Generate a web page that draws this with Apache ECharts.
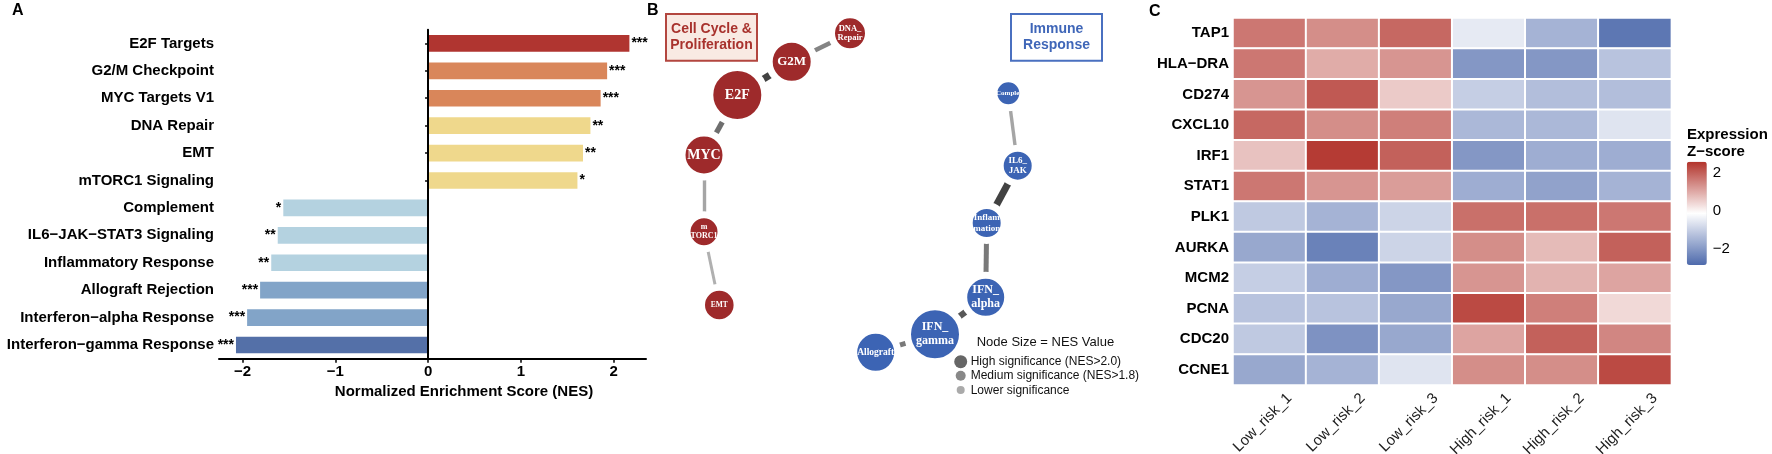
<!DOCTYPE html>
<html><head><meta charset="utf-8">
<script src="https://cdn.jsdelivr.net/npm/echarts/dist/echarts.min.js"></script>
<style>html,body{margin:0;padding:0;background:#fff}#c{width:1772px;height:454px}</style>
</head><body><div id="c"></div>
<script>
// ---------- Panel A data ----------
const pathways = ['E2F Targets','G2/M Checkpoint','MYC Targets V1','DNA Repair','EMT','mTORC1 Signaling','Complement','IL6\u2212JAK\u2212STAT3 Signaling','Inflammatory Response','Allograft Rejection','Interferon\u2212alpha Response','Interferon\u2212gamma Response'];
const nes = [2.17, 1.93, 1.86, 1.75, 1.67, 1.61, -1.56, -1.62, -1.69, -1.81, -1.95, -2.07];
const stars = ['***','***','***','**','**','*','*','**','**','***','***','***'];
const nesTicks = [-2, -1, 0, 1, 2];

// ---------- Panel B data ----------
const nodeIds = ['E2F','G2M','DNA_Repair','MYC','mTORC1','EMT','Complement','IL6_JAK','Inflammation','IFN_alpha','IFN_gamma','Allograft'];
const nodeLabels = ['E2F','G2M','DNA_\nRepair','MYC','m\nTORC1','EMT','Complement','IL6_\nJAK','Inflam\nmation','IFN_\nalpha','IFN_\ngamma','Allograft'];
const nodeGroup = ['cell','cell','cell','cell','cell','cell','immune','immune','immune','immune','immune','immune'];
const nodeX = [97.3, 151.7, 210, 64, 64, 79.3, 368.3, 377.7, 346.7, 345.7, 295, 235.7];
const nodeY = [95, 61.7, 33.3, 155, 231.7, 305, 93.3, 165.7, 223, 297.3, 334.3, 352.3];
const nodeSize = [48, 38, 30, 37, 27, 28.6, 22, 28, 28, 37, 48, 37];
const linkSource = ['G2M','E2F','E2F','MYC','mTORC1','Complement','IL6_JAK','Inflammation','IFN_alpha','IFN_gamma'];
const linkTarget = ['DNA_Repair','G2M','MYC','mTORC1','EMT','IL6_JAK','Inflammation','IFN_alpha','IFN_gamma','Allograft'];
const linkWeight = [0.6, 0.9, 0.7, 0.45, 0.4, 0.45, 0.9, 0.65, 0.8, 0.65];

// ---------- Panel C data ----------
const samples = ['Low_risk_1','Low_risk_2','Low_risk_3','High_risk_1','High_risk_2','High_risk_3'];
const genes = ['TAP1','HLA\u2212DRA','CD274','CXCL10','IRF1','STAT1','PLK1','AURKA','MCM2','PCNA','CDC20','CCNE1'];
const zScores = [
  [1.7, 1.4, 1.9, -0.5, -1.5, -2.6],
  [1.7, 1.0, 1.3, -2.0, -2.0, -1.2],
  [1.3, 2.1, 0.6, -1.0, -1.3, -1.3],
  [1.9, 1.4, 1.6, -1.4, -1.4, -0.6],
  [0.7, 2.5, 2.0, -2.0, -1.6, -1.6],
  [1.7, 1.3, 1.2, -1.6, -1.8, -1.5],
  [-1.1, -1.5, -0.9, 1.8, 1.8, 1.7],
  [-1.7, -2.4, -0.9, 1.4, 0.8, 2.0],
  [-1.0, -1.6, -2.0, 1.3, 0.9, 1.1],
  [-1.2, -1.2, -1.7, 2.3, 1.6, 0.4],
  [-1.1, -2.1, -1.7, 1.1, 2.0, 1.5],
  [-1.7, -1.5, -0.6, 1.4, 1.4, 2.3]
];
const zMin = -2.83, zMax = 2.61;
const colorbarTicks = [-2, 0, 2];

// ---------- styling helpers ----------
const SANS = 'Liberation Sans, Arial, sans-serif';
const SERIF = 'Liberation Serif, Times New Roman, serif';
const minus = v => (v < 0 ? '\u2212' + Math.abs(v) : String(v));
function barColor(v) {
  if (v > 2) return '#B03530';
  if (v > 1.8) return '#D9865A';
  if (v > 0) return '#EFD88C';
  if (v > -1.8) return '#B4D2E0';
  if (v > -2) return '#82A4C8';
  return '#5470A8';
}
const labelFont = {E2F:14, G2M:13, DNA_Repair:8.5, MYC:14, mTORC1:8, EMT:7.5, Complement:7, IL6_JAK:9, Inflammation:9, IFN_alpha:12, IFN_gamma:12, Allograft:9.5};
const labelShift = {Complement: [7, 0]};
const GAP = 7;

const barData = nes.map((v, i) => ({
  value: v,
  itemStyle: {color: barColor(v)},
  label: {show: true, position: v >= 0 ? 'right' : 'left', distance: 2, formatter: stars[i],
          fontSize: 14, fontWeight: 'bold', color: '#000', fontFamily: SANS}
}));

const graphNodes = nodeIds.map((id, i) => ({
  name: id,
  value: [nodeX[i], nodeY[i]],
  symbolSize: nodeSize[i] + GAP,
  itemStyle: {color: nodeGroup[i] === 'cell' ? '#9E2A2B' : '#3C64B4', borderColor: '#fff', borderWidth: GAP},
  label: {show: true, position: 'inside', formatter: nodeLabels[i], color: '#fff', offset: labelShift[id] || [0, 0],
          fontFamily: SERIF, fontWeight: 'bold', fontSize: labelFont[id], lineHeight: labelFont[id] * 1.15}
}));
const graphLinks = linkSource.map((s, i) => {
  const w = linkWeight[i];
  const g = Math.round(176 - (w - 0.4) / 0.5 * 110);
  return {source: s, target: linkTarget[i],
          lineStyle: {color: `rgb(${g},${g},${g})`, width: 3 + (w - 0.4) * 8, opacity: 1, curveness: 0}};
});

const heatData = [];
zScores.forEach((row, r) => row.forEach((v, c) => heatData.push([c, r, v])));

const G = {containLabel: false, outerBoundsMode: 'none'};
const chart = echarts.init(document.getElementById('c'), null, {renderer: 'canvas'});
chart.setOption({
  animation: false,
  backgroundColor: '#fff',
  textStyle: {fontFamily: SANS},
  grid: [
    Object.assign({left: 219, top: 29.7, width: 427, height: 329}, G),
    Object.assign({left: 640, top: 0, width: 500, height: 454}, G),
    Object.assign({left: 1233, top: 18, width: 438.4, height: 367}, G),
    Object.assign({left: 1686.8, top: 161.7, width: 20, height: 103.3}, G),
    Object.assign({left: 1253, top: 18, width: 438.4, height: 367}, G)
  ],
  xAxis: [
    {gridIndex: 0, type: 'value', min: -2.253, max: 2.349,
     axisLine: {show: true, onZero: false, lineStyle: {color: '#000', width: 2}},
     axisTick: {show: true, length: 4, lineStyle: {color: '#000', width: 1.5}, customValues: nesTicks},
     axisLabel: {customValues: nesTicks, formatter: minus, fontSize: 15, fontWeight: 'bold', color: '#000', margin: 6, fontFamily: SANS},
     splitLine: {show: false}},
    {gridIndex: 1, type: 'value', min: 0, max: 500, show: false},
    {gridIndex: 2, type: 'category', data: samples,
     axisLine: {show: false}, axisTick: {show: false}, splitLine: {show: false}, axisLabel: {show: false}},
    {gridIndex: 3, type: 'value', show: false},
    {gridIndex: 4, type: 'category', data: samples,
     axisLine: {show: false}, axisTick: {show: false}, splitLine: {show: false},
     axisLabel: {rotate: 45, interval: 0, fontSize: 15, color: '#222', margin: 11, fontFamily: SANS}}
  ],
  yAxis: [
    {gridIndex: 0, type: 'category', data: pathways, inverse: true,
     axisLine: {show: true, lineStyle: {color: '#000', width: 2}},
     axisTick: {show: true, length: 3, alignWithLabel: true, lineStyle: {color: '#000', width: 1.5}},
     axisLabel: {fontSize: 15, fontWeight: 'bold', color: '#000', margin: 5, fontFamily: SANS}},
    {gridIndex: 1, type: 'value', min: 0, max: 454, inverse: true, show: false},
    {gridIndex: 2, type: 'category', data: genes, inverse: true,
     axisLine: {show: false}, axisTick: {show: false}, splitLine: {show: false},
     axisLabel: {fontSize: 15, fontWeight: 'bold', color: '#000', margin: 4, fontFamily: SANS}},
    {gridIndex: 3, type: 'value', min: zMin, max: zMax, position: 'right',
     axisLine: {show: false}, splitLine: {show: false},
     axisTick: {show: true, inside: true, length: 4, customValues: colorbarTicks, lineStyle: {color: '#fff', width: 1}},
     axisLabel: {customValues: colorbarTicks, formatter: minus, fontSize: 15, color: '#000', margin: 6, fontFamily: SANS}},
    {gridIndex: 4, type: 'value', show: false}
  ],
  visualMap: {
    type: 'continuous', seriesIndex: 2, dimension: 2, min: zMin, max: zMax,
    calculable: false, realtime: false, text: ['', ''], showLabel: false,
    left: 1686.8, top: 161.7, itemWidth: 20, itemHeight: 103.3, padding: 0,
    inRange: {color: ['#4E6AAC', '#FFFFFF', '#B2332B']}
  },
  series: [
    {type: 'bar', xAxisIndex: 0, yAxisIndex: 0, data: barData, barWidth: '61%',
     markLine: {silent: true, symbol: 'none', label: {show: false},
                lineStyle: {color: '#000', width: 2, type: 'solid'}, data: [{xAxis: 0}]}},
    {type: 'graph', coordinateSystem: 'cartesian2d', xAxisIndex: 1, yAxisIndex: 1,
     symbol: 'circle', data: graphNodes, links: graphLinks, edgeSymbol: ['none', 'none'],
     emphasis: {disabled: true}, z: 3},
    {type: 'heatmap', xAxisIndex: 2, yAxisIndex: 2, data: heatData,
     itemStyle: {borderColor: '#fff', borderWidth: 2}, emphasis: {disabled: true}},
    {type: 'scatter', xAxisIndex: 3, yAxisIndex: 3, data: []},
    {type: 'scatter', xAxisIndex: 4, yAxisIndex: 4, data: []}
  ],
  graphic: [
    {type: 'text', left: 12, top: 3, style: {text: 'A', font: 'bold 16px ' + SANS, fill: '#000'}},
    {type: 'text', left: 647, top: 3, style: {text: 'B', font: 'bold 16px ' + SANS, fill: '#000'}},
    {type: 'text', left: 1149, top: 4, style: {text: 'C', font: 'bold 16px ' + SANS, fill: '#000'}},
    {type: 'text', x: 464, y: 392, style: {text: 'Normalized Enrichment Score (NES)', font: 'bold 15px ' + SANS, fill: '#000', align: 'center', verticalAlign: 'middle'}},
    {type: 'rect', shape: {x: 666, y: 14, width: 91, height: 46.7}, style: {fill: '#F9EAE3', stroke: '#B3463F', lineWidth: 2}},
    {type: 'text', x: 711.5, y: 37.5, style: {text: 'Cell Cycle &\nProliferation', font: 'bold 14px ' + SANS, fill: '#A8322D', align: 'center', verticalAlign: 'middle', lineHeight: 16}},
    {type: 'rect', shape: {x: 1011, y: 14, width: 91, height: 46.7}, style: {fill: '#FFFFFF', stroke: '#4A70C0', lineWidth: 2}},
    {type: 'text', x: 1056.5, y: 37.5, style: {text: 'Immune\nResponse', font: 'bold 14px ' + SANS, fill: '#3F66B8', align: 'center', verticalAlign: 'middle', lineHeight: 16}},
    {type: 'text', x: 976.7, y: 342, style: {text: 'Node Size = NES Value', font: '13px ' + SANS, fill: '#111', verticalAlign: 'middle'}},
    {type: 'circle', shape: {cx: 960.7, cy: 361.7, r: 6.5}, style: {fill: '#666'}},
    {type: 'circle', shape: {cx: 960.7, cy: 375.7, r: 5}, style: {fill: '#888'}},
    {type: 'circle', shape: {cx: 960.7, cy: 390, r: 4}, style: {fill: '#aaa'}},
    {type: 'text', x: 970.7, y: 362, style: {text: 'High significance (NES>2.0)', font: '12px ' + SANS, fill: '#111', verticalAlign: 'middle'}},
    {type: 'text', x: 970.7, y: 376, style: {text: 'Medium significance (NES>1.8)', font: '12px ' + SANS, fill: '#111', verticalAlign: 'middle'}},
    {type: 'text', x: 970.7, y: 390.5, style: {text: 'Lower significance', font: '12px ' + SANS, fill: '#111', verticalAlign: 'middle'}},
    {type: 'text', x: 1687, y: 143, style: {text: 'Expression\nZ\u2212score', font: 'bold 15px ' + SANS, fill: '#000', verticalAlign: 'middle', lineHeight: 17}}
  ]
});
</script></body></html>
